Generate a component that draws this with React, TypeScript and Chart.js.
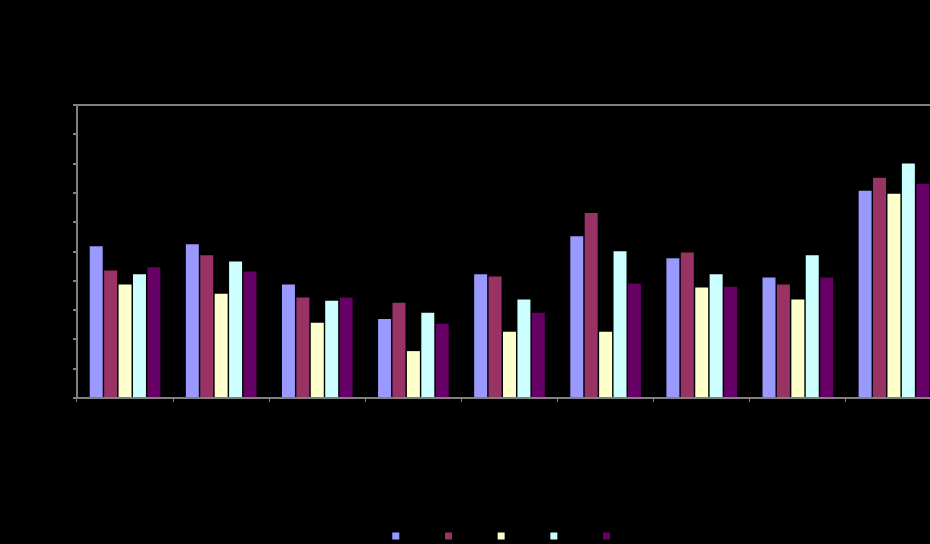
import React, { useEffect, useRef } from "react";
import { Chart, registerables } from "chart.js";

Chart.register(...registerables);

const categories = ["Cat 1", "Cat 2", "Cat 3", "Cat 4", "Cat 5", "Cat 6", "Cat 7", "Cat 8", "Cat 9"];
const seriesNames = ["Series 1", "Series 2", "Series 3", "Series 4", "Series 5"];
const series1 = [5.18, 5.25, 3.87, 2.7, 4.22, 5.52, 4.77, 4.11, 7.07];
const series2 = [4.35, 4.87, 3.43, 3.25, 4.15, 6.31, 4.97, 3.87, 7.52];
const series3 = [3.87, 3.56, 2.57, 1.6, 2.26, 2.26, 3.77, 3.36, 6.97];
const series4 = [4.22, 4.66, 3.32, 2.91, 3.36, 5.01, 4.22, 4.87, 8.0];
const series5 = [4.46, 4.32, 3.43, 2.53, 2.91, 3.91, 3.8, 4.11, 7.31];
const colors = ["#9999FF", "#993366", "#FFFFCC", "#CCFFFF", "#660066"];
const yMax = 10;
const yStep = 1;

export default function App() {
  const ref = useRef<HTMLCanvasElement | null>(null);
  useEffect(() => {
    document.body.style.margin = "0";
    document.body.style.background = "#000";
    document.body.style.overflow = "hidden";
    const values = [series1, series2, series3, series4, series5];
    const chart = new Chart(ref.current as HTMLCanvasElement, {
      type: "bar",
      data: {
        labels: categories,
        datasets: values.map((v, i) => ({
          label: seriesNames[i],
          data: v,
          backgroundColor: colors[i],
          borderWidth: 0,
          categoryPercentage: 0.75,
          barPercentage: 0.9,
          yAxisID: "y",
        })),
      },
      options: {
        responsive: false,
        animation: false,
        layout: { padding: { top: 105, right: 0, left: 0, bottom: -7 } },
        plugins: {
          title: { display: false },
          tooltip: { enabled: false },
          legend: {
            position: "bottom",
            labels: {
              color: "#000",
              boxWidth: 7,
              boxHeight: 7,
              padding: 4,
              font: { size: 10, family: "Liberation Sans" },
            },
          },
        },
        scales: {
          x: {
            grid: {
              offset: true,
              drawOnChartArea: false,
              tickColor: "#808080",
              tickLength: 4,
            },
            border: { color: "#808080", width: 2 },
            ticks: { color: "#000", font: { size: 10, family: "Liberation Sans" } },
            afterFit: (axis: any) => {
              axis.height = 129;
            },
          },
          y: {
            min: 0,
            max: yMax,
            ticks: { stepSize: yStep, color: "#000", font: { size: 10, family: "Liberation Sans" } },
            grid: {
              color: (ctx: any) => (ctx.tick && ctx.tick.value === yMax ? "#808080" : "rgba(0,0,0,0)"),
              lineWidth: 2,
              tickColor: "#808080",
              tickLength: 4,
              drawTicks: true,
            },
            border: { color: "#808080", width: 2 },
            afterFit: (axis: any) => {
              axis.width = 77;
            },
          },
          yRight: {
            position: "right",
            display: true,
            min: 0,
            max: yMax,
            grid: { display: false, drawTicks: false },
            border: { display: false },
            ticks: { display: false },
            afterFit: (axis: any) => {
              axis.width = 102;
            },
          },
        },
      },
    });
    return () => chart.destroy();
  }, []);
  return (
    <div style={{ position: "fixed", left: 0, top: 0, width: 930, height: 544, overflow: "hidden", background: "#000" }}>
      <canvas ref={ref} width={1044} height={544} style={{ display: "block", width: 1044, height: 544 }} />
    </div>
  );
}
